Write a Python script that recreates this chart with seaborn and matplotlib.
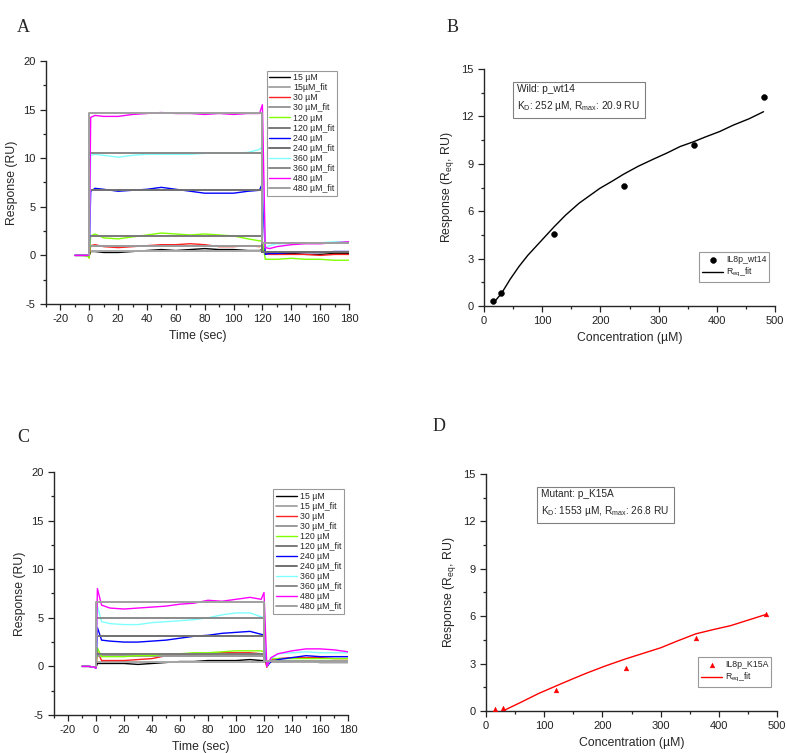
"""SPR sensorgrams and steady-state affinity fits for wild-type and K15A IL8 peptides."""

import matplotlib

matplotlib.use("Agg")
import matplotlib.pyplot as plt
import seaborn as sns
from matplotlib.ticker import MultipleLocator

# ---- sensorgram data (panels A and C) ----
time_sec = [-10, -5, -1, 0, 1, 4, 10, 20, 30, 40, 50, 60, 70, 80, 90, 100,
            110, 118, 120, 122, 125, 130, 140, 150, 160, 170, 180]
conc_labels = ["15 µM", "30 µM", "120 µM", "240 µM", "360 µM", "480 µM"]
fit_labels_a = ["15µM_fit", "30 µM_fit", "120 µM_fit", "240 µM_fit", "360 µM_fit", "480 µM_fit"]
fit_labels_c = ["15 µM_fit", "30 µM_fit", "120 µM_fit", "240 µM_fit", "360 µM_fit", "480 µM_fit"]

wt_15 = [0.0, 0.0, 0.0, 0.0, 0.4, 0.4, 0.3, 0.3, 0.4, 0.5, 0.6, 0.5, 0.6, 0.7,
         0.6, 0.6, 0.5, 0.5, 0.6, 0.2, 0.2, 0.2, 0.2, 0.1, 0.1, 0.2, 0.2]
wt_30 = [0.0, 0.0, 0.0, 0.0, 1.0, 1.1, 0.9, 0.8, 0.9, 1.0, 1.1, 1.1, 1.2, 1.1,
         0.9, 0.9, 1.0, 0.9, 1.0, 0.2, 0.1, 0.1, 0.1, 0.1, 0.0, 0.1, 0.1]
wt_120 = [0.0, 0.0, -0.1, -0.3, 2.0, 2.2, 1.8, 1.7, 1.9, 2.1, 2.3, 2.2, 2.1, 2.2,
          2.1, 2.0, 1.7, 1.5, 1.5, -0.4, -0.4, -0.4, -0.3, -0.4, -0.4, -0.5, -0.5]
wt_240 = [0.0, 0.0, 0.0, 0.0, 6.6, 6.9, 6.8, 6.6, 6.7, 6.8, 7.0, 6.8, 6.6, 6.4,
          6.4, 6.4, 6.6, 6.7, 7.4, 0.1, 0.2, 0.2, 0.3, 0.3, 0.3, 0.4, 0.4]
wt_360 = [0.0, 0.0, 0.0, 0.0, 10.3, 10.4, 10.3, 10.1, 10.3, 10.4, 10.4, 10.4, 10.4,
          10.5, 10.5, 10.5, 10.6, 10.9, 11.2, 0.8, 1.0, 1.2, 1.2, 1.3, 1.3, 1.4, 1.4]
wt_480 = [0.0, 0.0, 0.0, 0.0, 14.2, 14.4, 14.3, 14.3, 14.5, 14.6, 14.7, 14.6, 14.6,
          14.5, 14.6, 14.5, 14.6, 14.6, 15.5, 0.8, 0.7, 0.9, 1.1, 1.2, 1.2, 1.3, 1.4]

mut_15 = [0.0, 0.0, -0.1, -0.1, 0.3, 0.3, 0.3, 0.3, 0.2, 0.3, 0.4, 0.5, 0.5, 0.6,
          0.6, 0.6, 0.7, 0.6, 0.6, 0.3, 0.5, 0.5, 0.5, 0.5, 0.4, 0.4, 0.4]
mut_30 = [0.0, 0.0, -0.1, -0.1, 1.5, 0.6, 0.6, 0.6, 0.7, 0.8, 1.1, 1.2, 1.2, 1.3,
          1.4, 1.4, 1.4, 1.3, 1.2, -0.1, 0.7, 0.8, 0.9, 0.9, 0.9, 0.8, 0.8]
mut_120 = [0.0, 0.0, -0.1, -0.1, 1.9, 1.0, 1.0, 1.0, 1.1, 1.1, 1.3, 1.3, 1.4, 1.4,
           1.5, 1.6, 1.6, 1.6, 1.5, 0.2, 0.8, 0.8, 0.8, 0.8, 0.8, 0.8, 0.8]
mut_240 = [0.0, 0.0, -0.1, -0.2, 4.0, 2.7, 2.6, 2.5, 2.5, 2.6, 2.7, 2.9, 3.1, 3.2,
           3.4, 3.5, 3.6, 3.3, 3.2, 0.0, 0.5, 0.7, 0.9, 1.1, 1.0, 1.0, 1.0]
mut_360 = [0.0, 0.0, -0.1, -0.2, 6.2, 4.6, 4.4, 4.3, 4.3, 4.5, 4.6, 4.7, 4.8, 5.0,
           5.3, 5.5, 5.5, 5.1, 5.0, 0.0, 0.8, 1.3, 1.4, 1.5, 1.4, 1.4, 1.4]
mut_480 = [0.0, 0.0, -0.1, -0.2, 8.0, 6.3, 6.0, 5.9, 6.0, 6.1, 6.2, 6.4, 6.5, 6.8,
           6.7, 6.9, 7.1, 6.9, 7.6, 0.0, 0.9, 1.3, 1.6, 1.8, 1.8, 1.7, 1.5]

# steady-state fit levels (association plateau, dissociation level)
fit_t = [0, 0, 120, 120, 180]
wt_fit_plateau = [0.5, 1.0, 2.0, 6.7, 10.5, 14.6]
wt_fit_after = [0.3, 0.3, 0.3, 0.3, 1.3, 1.3]
mut_fit_plateau = [0.45, 1.03, 1.3, 3.15, 4.97, 6.6]
mut_fit_after = [0.5, 0.6, 0.6, 0.6, 0.6, 0.6]

# ---- steady-state affinity data (panels B and D) ----
conc_um = [15, 30, 120, 240, 360, 480]
wt_req = [0.3, 0.85, 4.55, 7.6, 10.2, 13.2]
mut_req = [0.1, 0.2, 1.3, 2.75, 4.6, 6.15]

wt_fit_conc = [18, 30, 45, 60, 75, 90, 105, 120, 140, 163, 180, 199, 220, 240,
               265, 291, 315, 337, 360, 380, 405, 428, 455, 480]
wt_fit_req = [0.27, 0.8, 1.7, 2.5, 3.2, 3.8, 4.4, 5.0, 5.75, 6.5, 6.95, 7.45, 7.9,
              8.35, 8.85, 9.3, 9.7, 10.1, 10.4, 10.7, 11.05, 11.45, 11.85, 12.3]
mut_fit_conc = [30, 60, 90, 120, 150, 173, 205, 240, 270, 300, 330, 360, 390, 420, 450, 480]
mut_fit_req = [0.02, 0.55, 1.1, 1.58, 2.05, 2.4, 2.85, 3.3, 3.65, 4.0, 4.45, 4.88,
               5.15, 5.4, 5.75, 6.1]

data_colors = ["#000000", "#ff2020", "#80ff00", "#0000ff", "#80ffff", "#ff00ff"]
fit_colors = ["#a8a8a8", "#9a9a9a", "#7a7a7a", "#707070", "#8a8a8a", "#a0a0a0"]

sns.set_theme(style="ticks")
plt.rcParams["font.family"] = ["Liberation Sans", "DejaVu Sans"]
plt.rcParams["mathtext.fontset"] = "custom"
plt.rcParams["mathtext.rm"] = "Liberation Sans"
plt.rcParams["mathtext.it"] = "Liberation Sans:italic"
plt.rcParams["axes.unicode_minus"] = False
plt.rcParams["axes.linewidth"] = 1.0
plt.rcParams["xtick.major.size"] = 4
plt.rcParams["ytick.major.size"] = 4
plt.rcParams["xtick.minor.size"] = 2
plt.rcParams["ytick.minor.size"] = 2


def style_axes(ax, xlim, ylim, xmaj, xmin, ymaj, ymin):
    ax.set_xlim(*xlim)
    ax.set_ylim(*ylim)
    ax.xaxis.set_major_locator(MultipleLocator(xmaj))
    ax.xaxis.set_minor_locator(MultipleLocator(xmin))
    ax.yaxis.set_major_locator(MultipleLocator(ymaj))
    ax.yaxis.set_minor_locator(MultipleLocator(ymin))
    ax.tick_params(axis="both", which="both", direction="out", labelsize=8,
                   colors="#222222", width=0.9)
    sns.despine(ax=ax)


def sensorgram(ax, series, plateaus, afters, fit_labels, legend_anchor):
    for i, values in enumerate(series):
        sns.lineplot(x=time_sec, y=values, color=data_colors[i], lw=1.0,
                     label=conc_labels[i], sort=False, estimator=None, ax=ax)
        level = plateaus[i]
        fit_y = [0, level, level, afters[i], afters[i]]
        sns.lineplot(x=fit_t, y=fit_y, color=fit_colors[i], lw=1.4,
                     label=fit_labels[i], sort=False, estimator=None, ax=ax)
    style_axes(ax, (-30, 180), (-5, 20), 20, 10, 5, 2.5)
    ax.set_xlabel("Time (sec)", fontsize=8.8)
    ax.set_ylabel("Response (RU)", fontsize=8.8)
    leg = ax.legend(loc="upper right", bbox_to_anchor=legend_anchor, fontsize=6.3,
                    frameon=True, fancybox=False, edgecolor="#808080",
                    handlelength=2.4, labelspacing=0.12, borderpad=0.3,
                    handletextpad=0.3, borderaxespad=0)
    leg.get_frame().set_linewidth(0.8)


def affinity(ax, req, fit_conc, fit_req, color, marker, point_label, box_text, ms):
    sns.scatterplot(x=conc_um, y=req, color=color, marker=marker, s=ms,
                    edgecolor=color, label=point_label, ax=ax, zorder=3)
    sns.lineplot(x=fit_conc, y=fit_req, color=color, lw=1.0,
                 label="R$_\\mathrm{eq}$_fit", sort=False, estimator=None, ax=ax)
    style_axes(ax, (0, 500), (0, 15), 100, 50, 3, 1.5)
    ax.set_xlabel("Concentration (µM)", fontsize=8.8)
    ax.set_ylabel("Response (R$_\\mathrm{eq}$, RU)", fontsize=8.8)
    leg = ax.legend(loc="lower right", bbox_to_anchor=(0.98, 0.1), fontsize=6.3,
                    frameon=True, fancybox=False, edgecolor="#808080",
                    handlelength=2.4, labelspacing=0.2, borderpad=0.35,
                    handletextpad=0.3, borderaxespad=0)
    leg.get_frame().set_linewidth(0.8)
    ax.text(box_text[0], box_text[1], box_text[2], transform=ax.transAxes,
            va="top", ha="left", fontsize=7.3, linespacing=1.5,
            bbox=dict(boxstyle="square,pad=0.45", fc="white", ec="#808080", lw=0.8))


fig = plt.figure(figsize=(7.87, 7.53), dpi=100)
ax_a = fig.add_axes([0.0584, 0.5963, 0.385, 0.3227])
ax_b = fig.add_axes([0.615, 0.5936, 0.370, 0.3147])
ax_c = fig.add_axes([0.0686, 0.0505, 0.3736, 0.3227])
ax_d = fig.add_axes([0.6175, 0.0558, 0.370, 0.3147])

sensorgram(ax_a, [wt_15, wt_30, wt_120, wt_240, wt_360, wt_480],
           wt_fit_plateau, wt_fit_after, fit_labels_a, (0.96, 0.96))
sensorgram(ax_c, [mut_15, mut_30, mut_120, mut_240, mut_360, mut_480],
           mut_fit_plateau, mut_fit_after, fit_labels_c, (0.985, 0.93))

affinity(ax_b, wt_req, wt_fit_conc, wt_fit_req, "black", "o", "IL8p_wt14",
         (0.115, 0.935, "Wild: p_wt14\nK$_\\mathrm{D}$: 252 µM, R$_\\mathrm{max}$: 20.9 RU"), 18)
affinity(ax_d, mut_req, mut_fit_conc, mut_fit_req, "red", "^", "IL8p_K15A",
         (0.19, 0.935, "Mutant: p_K15A\nK$_\\mathrm{D}$: 1553 µM, R$_\\mathrm{max}$: 26.8 RU"), 12)

for letter, x, y in [("A", 0.022, 0.975), ("B", 0.567, 0.975),
                     ("C", 0.022, 0.43), ("D", 0.549, 0.445)]:
    fig.text(x, y, letter, fontsize=13, family="Liberation Serif", va="top", ha="left")

fig.savefig("out.png", dpi=100)
